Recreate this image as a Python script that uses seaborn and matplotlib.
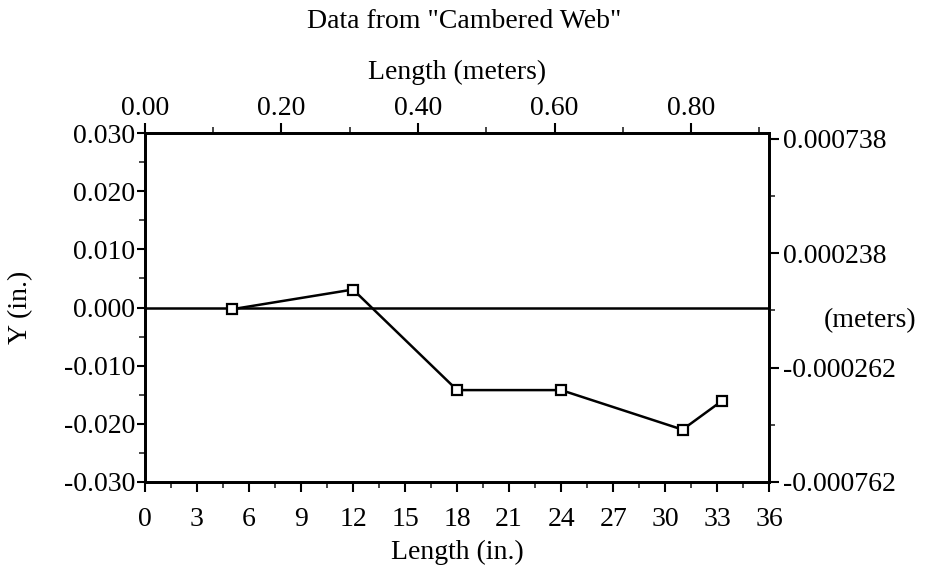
import numpy as np
import pandas as pd
import matplotlib
matplotlib.use("Agg")
import matplotlib.pyplot as plt
import seaborn as sns
from matplotlib.ticker import MultipleLocator, FixedLocator, FuncFormatter

# Data (inches)
length_in = [5, 12, 18, 24, 31, 33.3]
y_in = [-0.0003, 0.0031, -0.0142, -0.0142, -0.0210, -0.0160]

x_ticks_in = list(range(0, 37, 3))
y_ticks_in = [-0.030, -0.020, -0.010, 0.000, 0.010, 0.020, 0.030]
top_ticks_m = [0.00, 0.20, 0.40, 0.60, 0.80]
right_ticks_m = [-0.000762, -0.000262, 0.000238, 0.000738]

IN2M = 0.0254
FS = 20

sns.set_theme(style="white")
plt.rcParams['font.family'] = ['Liberation Serif', 'DejaVu Serif']
plt.rcParams['text.color'] = 'black'
plt.rcParams['axes.labelcolor'] = 'black'

df = pd.DataFrame({"Length": length_in, "Y": y_in})

fig = plt.figure(figsize=(9.29, 5.69), dpi=100)
ax = fig.add_axes([0.156, 0.153, 0.672, 0.613])

ax.axhline(0, color='black', lw=1.8, zorder=1)
sns.lineplot(data=df, x="Length", y="Y", ax=ax, color='black', lw=1.8,
             marker='s', markersize=7, markerfacecolor='white',
             markeredgecolor='black', markeredgewidth=1.6, zorder=3)

ax.set_xlim(0, 36)
ax.set_ylim(-0.030, 0.030)
ax.xaxis.set_major_locator(FixedLocator(x_ticks_in))
ax.xaxis.set_minor_locator(MultipleLocator(1.5))
ax.yaxis.set_major_locator(FixedLocator(y_ticks_in))
ax.yaxis.set_minor_locator(MultipleLocator(0.005))
ax.yaxis.set_major_formatter(FuncFormatter(lambda v, p: f"{v:.3f}"))
ax.set_xlabel("Length (in.)", fontsize=FS, labelpad=6, color='black')
ax.set_ylabel("Y (in.)", fontsize=FS, labelpad=22, color='black')

for s in ax.spines.values():
    s.set_color('black')
    s.set_linewidth(1.8)

ax.tick_params(axis='x', which='major', direction='out', length=7, width=1.5,
               labelsize=FS, colors='black', bottom=True, pad=11)
ax.tick_params(axis='y', which='major', direction='out', length=6, width=1.5,
               labelsize=FS, colors='black', left=True, pad=1)
ax.tick_params(axis='both', which='minor', direction='out', length=4, width=1.2,
               bottom=True, left=True)

# Top axis (meters)
axt = ax.twiny()
axt.set_xlim(0, 36 * IN2M)
axt.xaxis.set_major_locator(FixedLocator(top_ticks_m))
axt.xaxis.set_minor_locator(MultipleLocator(0.10))
axt.xaxis.set_major_formatter(FuncFormatter(lambda v, p: f"{v:.2f}"))
axt.set_xlabel("Length (meters)", fontsize=FS, labelpad=12, color='black')
axt.tick_params(axis='x', which='major', direction='out', length=7, width=1.5,
                labelsize=FS, colors='black', top=True, pad=2)
axt.tick_params(axis='x', which='minor', direction='out', length=4, width=1.2, top=True)

# Right axis (meters)
axr = ax.twinx()
axr.set_ylim(-0.030 * IN2M, 0.030 * IN2M)
axr.yaxis.set_major_locator(FixedLocator(right_ticks_m))
axr.yaxis.set_minor_locator(FixedLocator([-0.000512, -0.000012, 0.000488]))
axr.yaxis.set_major_formatter(FuncFormatter(lambda v, p: f"{v:.6f}"))
axr.tick_params(axis='y', which='major', direction='out', length=7, width=1.5,
                labelsize=FS, colors='black', right=True, pad=3)
axr.tick_params(axis='y', which='minor', direction='out', length=4, width=1.2, right=True)
axr.set_ylabel("")
for a in (axt, axr):
    for s in a.spines.values():
        s.set_color('black')
        s.set_linewidth(1.8)

fig.text(0.937, 0.437, "(meters)", fontsize=FS, ha='center', va='center')
fig.text(0.5, 0.963, 'Data from "Cambered Web"', fontsize=FS, ha='center', va='center')

fig.savefig("out.png", dpi=100)
